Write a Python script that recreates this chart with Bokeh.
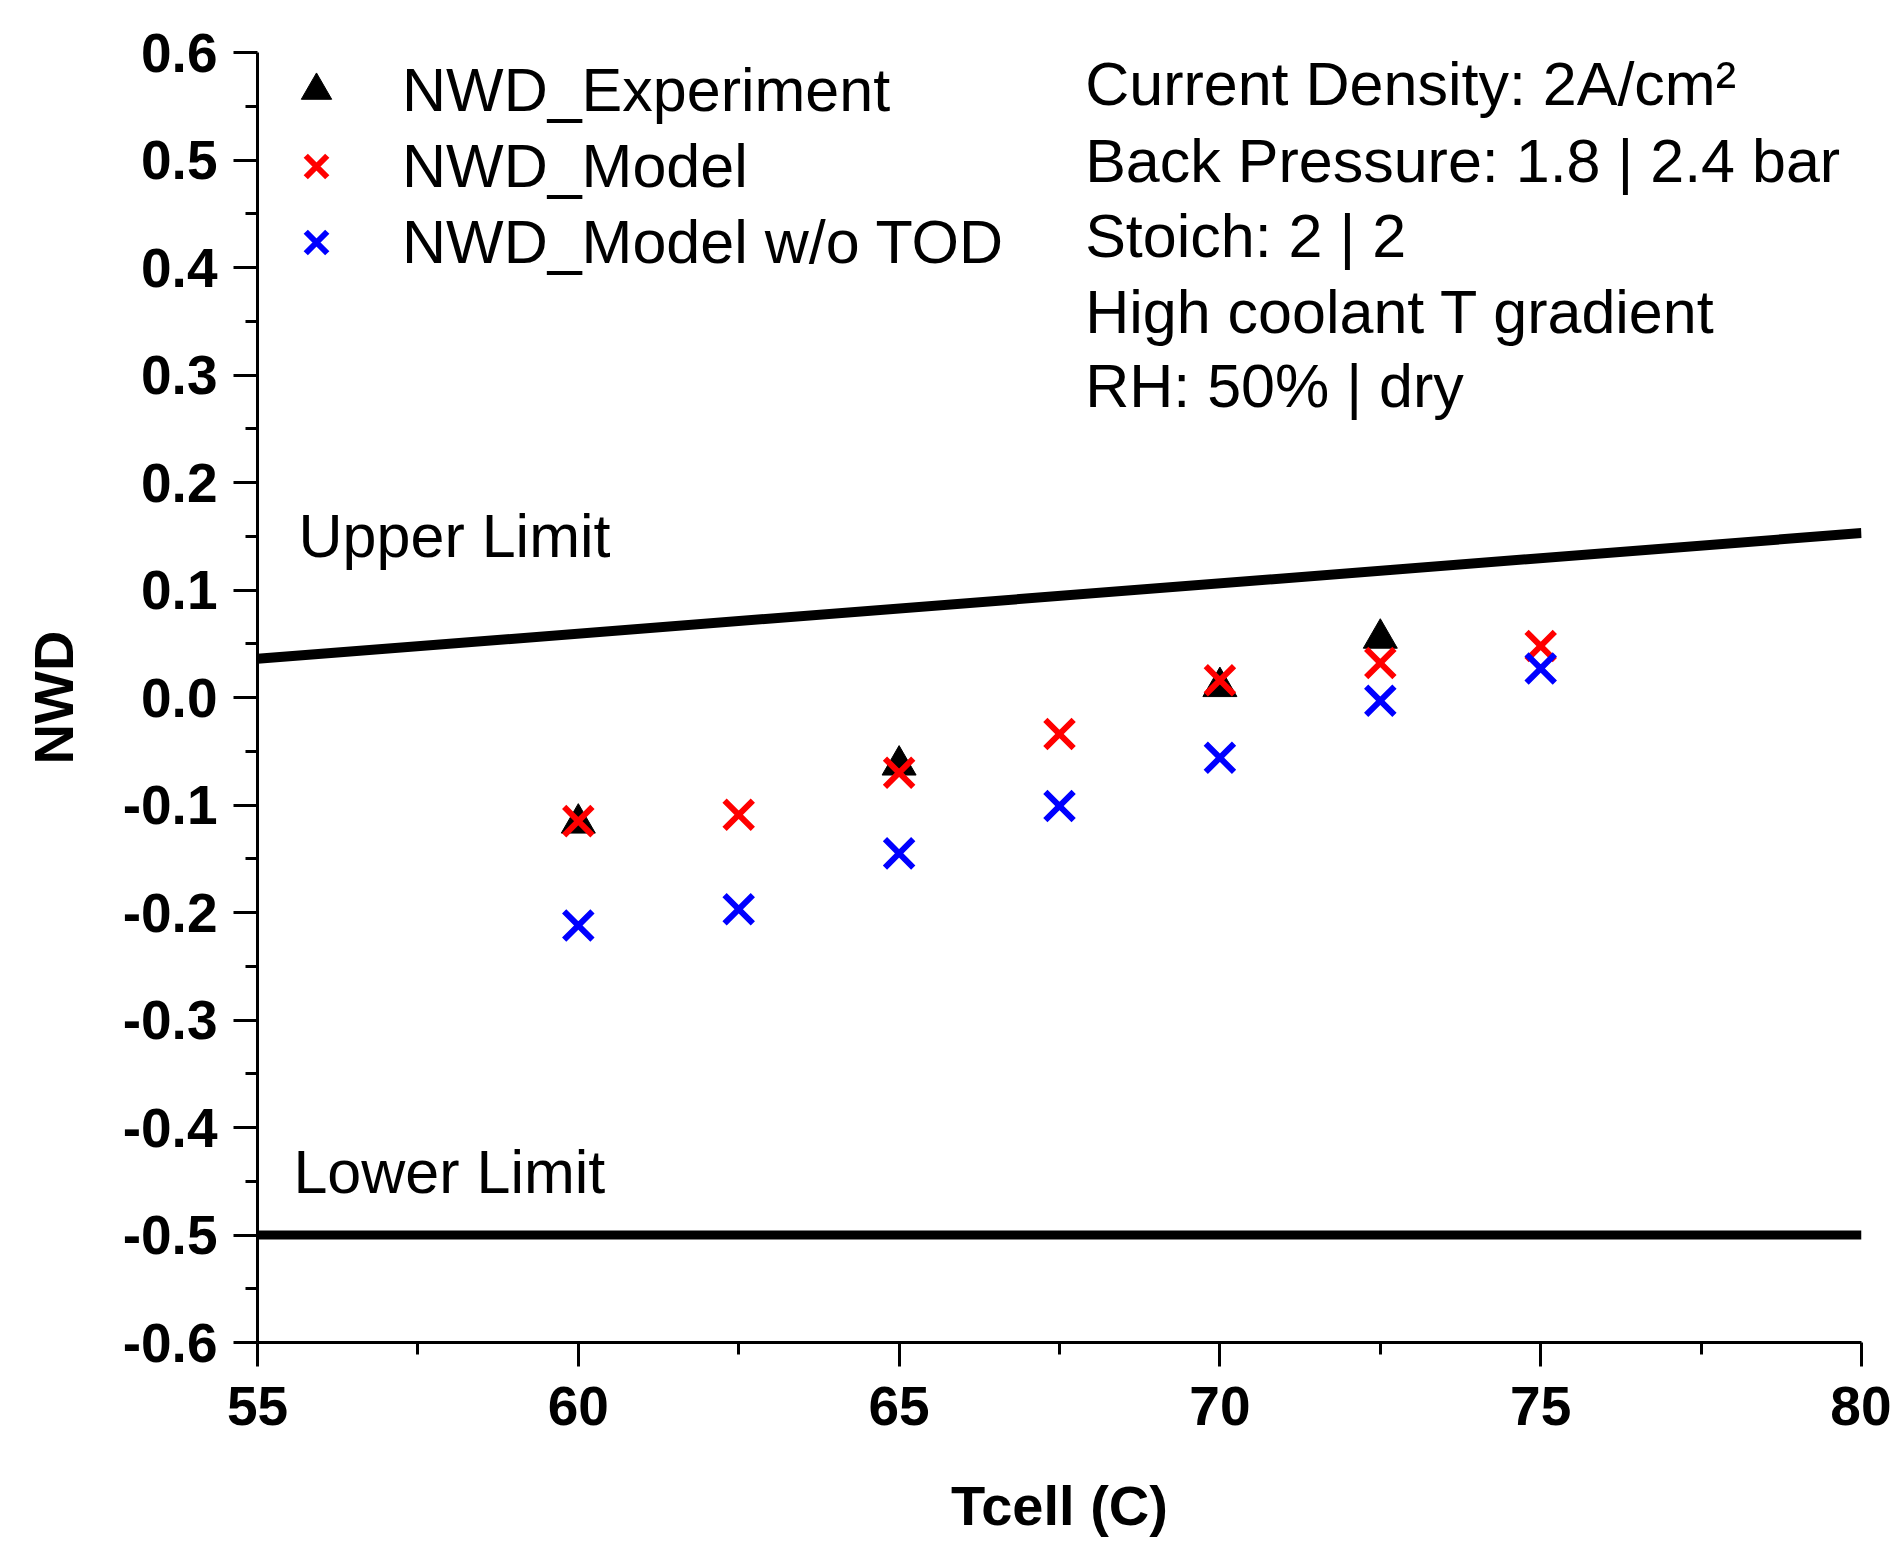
from bokeh.plotting import figure
from bokeh.models import (Range1d, FixedTicker, PrintfTickFormatter, Legend,
                          LegendItem, Label)
from bokeh.embed import file_html
from bokeh.resources import INLINE

# ---- data ----
t_exp = [60, 65, 70, 72.5]
nwd_exp = [-0.117, -0.063, 0.010, 0.055]

t_model = [60, 62.5, 65, 67.5, 70, 72.5, 75]
nwd_model = [-0.115, -0.109, -0.070, -0.034, 0.016, 0.032, 0.048]
nwd_model_notod = [-0.212, -0.197, -0.145, -0.101, -0.056, -0.003, 0.027]

t_limit = [55, 80]
upper_limit = [0.036, 0.153]
lower_limit = [-0.5, -0.5]

x_ticks = [55, 60, 65, 70, 75, 80]
x_minor = [57.5, 62.5, 67.5, 72.5, 77.5]
y_ticks = [round(-0.6 + 0.1 * i, 1) for i in range(13)]
y_minor = [round(-0.55 + 0.1 * i, 2) for i in range(12)]

legend_labels = ["NWD_Experiment", "NWD_Model", "NWD_Model w/o TOD"]
info_lines = ["Current Density: 2A/cm\u00b2", "Back Pressure: 1.8 | 2.4 bar",
              "Stoich: 2 | 2", "High coolant T gradient", "RH: 50% | dry"]
info_y = [0.5704, 0.4988, 0.429, 0.3584, 0.2896]

FONT = "Liberation Sans"

p = figure(width=1891, height=1541, x_range=Range1d(55, 80), y_range=Range1d(-0.6, 0.6),
           output_backend="svg", toolbar_location=None,
           min_border_left=257, min_border_right=30, min_border_top=52, min_border_bottom=199)
p.outline_line_color = None
p.xgrid.visible = False
p.ygrid.visible = False
p.background_fill_color = "white"
p.border_fill_color = "white"

# limits
p.line(t_limit, upper_limit, line_color="black", line_width=10)
p.line(t_limit, lower_limit, line_color="black", line_width=9)

r_exp = p.scatter(t_exp, nwd_exp, marker="triangle", size=34, fill_color="black",
                  line_color="black", line_width=1)
r_mod = p.scatter(t_model, nwd_model, marker="x", size=40, line_color="#ff0000", line_width=6)
r_not = p.scatter(t_model, nwd_model_notod, marker="x", size=40, line_color="#0000ff", line_width=6)

legend = Legend(items=[LegendItem(label=legend_labels[0], renderers=[r_exp]),
                       LegendItem(label=legend_labels[1], renderers=[r_mod]),
                       LegendItem(label=legend_labels[2], renderers=[r_not])],
                location="top_left", margin=0, padding=0, spacing=0,
                glyph_width=118, glyph_height=76, label_height=76, label_standoff=27,
                label_text_font=FONT, label_text_font_size="61px", label_text_color="black",
                border_line_color=None, background_fill_alpha=0)
p.add_layout(legend, "center")

for txt, yy in zip(info_lines, info_y):
    p.add_layout(Label(x=67.9, y=yy, text=txt, text_font=FONT, text_font_size="61px",
                       text_color="black", text_baseline="alphabetic"))

p.add_layout(Label(x=55.64, y=0.15, text="Upper Limit", text_font=FONT, text_font_size="61px",
                   text_color="black", text_baseline="alphabetic"))
p.add_layout(Label(x=55.56, y=-0.4417, text="Lower Limit", text_font=FONT, text_font_size="61px",
                   text_color="black", text_baseline="alphabetic"))

# axes
for ax in (p.xaxis[0], p.yaxis[0]):
    ax.axis_line_color = "black"
    ax.axis_line_width = 3
    ax.major_tick_line_width = 3
    ax.minor_tick_line_width = 3
    ax.major_tick_line_color = "black"
    ax.minor_tick_line_color = "black"
    ax.major_tick_in = 0
    ax.minor_tick_in = 0
    ax.major_tick_out = 24
    ax.minor_tick_out = 12
    ax.major_label_text_font = FONT
    ax.major_label_text_font_style = "bold"
    ax.major_label_text_font_size = "55px"
    ax.major_label_text_color = "black"
    ax.axis_label_text_font = FONT
    ax.axis_label_text_font_style = "bold"
    ax.axis_label_text_font_size = "56px"
    ax.axis_label_text_color = "black"

p.xaxis[0].ticker = FixedTicker(ticks=x_ticks, minor_ticks=x_minor)
p.yaxis[0].ticker = FixedTicker(ticks=y_ticks, minor_ticks=y_minor)
p.yaxis[0].formatter = PrintfTickFormatter(format="%.1f")
p.xaxis[0].axis_label = "Tcell (C)"
p.yaxis[0].axis_label = "NWD"
p.xaxis[0].major_label_standoff = 20
p.yaxis[0].major_label_standoff = 16
p.xaxis[0].axis_label_standoff = 46
p.yaxis[0].axis_label_standoff = 35

open("out.html", "w").write(file_html(p, INLINE))
